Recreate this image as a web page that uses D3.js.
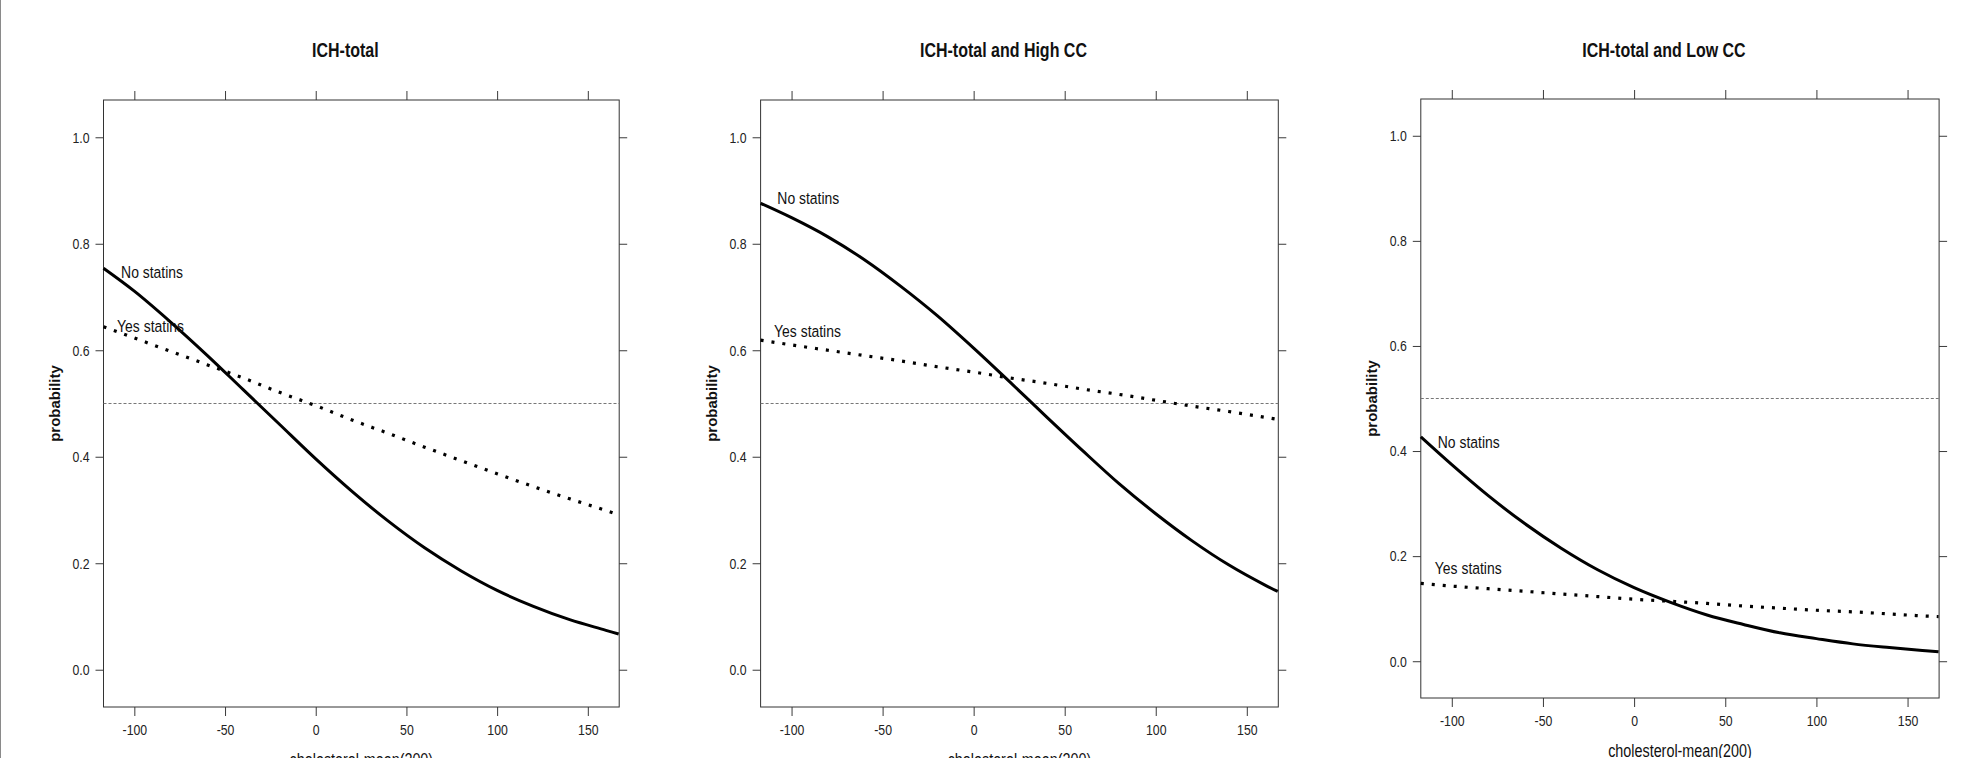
<!DOCTYPE html>
<html>
<head>
<meta charset="utf-8">
<script src="https://cdn.jsdelivr.net/npm/d3@7"></script>
<style>
  body { margin: 0; background: #fff; }
  svg { display: block; }
  .narrow { font-family: "Liberation Sans Narrow", "Arial Narrow", "Liberation Sans", sans-serif; }
</style>
</head>
<body>
<div id="chart"></div>
<script>
// values
var xTicks = [-100, -50, 0, 50, 100, 150];
var yTicks = [0, 0.2, 0.4, 0.6, 0.8, 1.0];
var cholesterol = [-117, -100, -80, -60, -40, -20, 0, 20, 40, 60, 80, 100, 120, 140, 160, 167];

var titles = ["ICH-total", "ICH-total and High CC", "ICH-total and Low CC"];
var seriesNames = ["No statins", "Yes statins"];

var totalNo  = [0.754, 0.711, 0.653, 0.591, 0.526, 0.461, 0.396, 0.335, 0.279, 0.229, 0.186, 0.149, 0.119, 0.094, 0.074, 0.067];
var totalYes = [0.644, 0.623, 0.598, 0.573, 0.548, 0.521, 0.496, 0.469, 0.444, 0.418, 0.393, 0.368, 0.344, 0.321, 0.299, 0.291];
var highNo   = [0.876, 0.849, 0.813, 0.770, 0.720, 0.665, 0.604, 0.540, 0.475, 0.411, 0.349, 0.293, 0.242, 0.197, 0.159, 0.147];
var highYes  = [0.619, 0.610, 0.600, 0.590, 0.580, 0.569, 0.559, 0.548, 0.538, 0.527, 0.517, 0.506, 0.495, 0.485, 0.474, 0.470];
var lowNo    = [0.427, 0.374, 0.315, 0.262, 0.215, 0.174, 0.140, 0.112, 0.088, 0.070, 0.054, 0.043, 0.033, 0.026, 0.020, 0.018];
var lowYes   = [0.148, 0.143, 0.138, 0.133, 0.128, 0.123, 0.118, 0.114, 0.110, 0.105, 0.101, 0.097, 0.094, 0.090, 0.086, 0.085];

// label anchors [x, probability] for "No statins" / "Yes statins"
var totalLabels = [[-107.3, 0.746], [-109.5, 0.646]];
var highLabels  = [[-107.8, 0.885], [-109.6, 0.636]];
var lowLabels   = [[-107.7, 0.418], [-109.3, 0.177]];

var refLine = 0.5;

var width = 1965;
var height = 758;
var squeeze = 0.82; // no narrow face installed, so squash the plain one

var svg = d3.select("#chart").append("svg")
    .attr("width", width)
    .attr("height", height);

// put x/y into a transform so the text can be squeezed sideways
function condense(sel) {
  sel.each(function() {
    var t = d3.select(this);
    var tx = +t.attr("x") || 0, ty = +t.attr("y") || 0;
    t.attr("x", 0).attr("y", 0)
     .attr("transform", "translate(" + tx + "," + ty + ") scale(" + squeeze + ",1)");
  });
}

// thin grey edge on the left of the picture
svg.append("line")
    .attr("x1", 0.5).attr("x2", 0.5)
    .attr("y1", 0).attr("y2", height)
    .attr("stroke", "#8a8a8a");

var panels = [
  {title: titles[0], no: totalNo, yes: totalYes, labels: totalLabels, left: 103.5, right: 619.2, top: 100, bottom: 707},
  {title: titles[1], no: highNo,  yes: highYes,  labels: highLabels,  left: 760.6, right: 1278.3, top: 100, bottom: 707},
  {title: titles[2], no: lowNo,   yes: lowYes,   labels: lowLabels,   left: 1420.8, right: 1939.1, top: 99, bottom: 698}
];

panels.forEach(function(p) {
  var x = d3.scaleLinear().domain([-117, 167.3]).range([p.left, p.right]);
  var y = d3.scaleLinear().domain([-0.07, 1.07]).range([p.bottom, p.top]);

  var g = svg.append("g");

  // axes: ticks outward on all four sides, labels only left and bottom
  var tickColor = "#3a3a3a";
  g.append("g")
      .attr("transform", "translate(0," + p.bottom + ")")
      .call(d3.axisBottom(x).tickValues(xTicks).tickSize(9).tickPadding(8).tickFormat(function(d) { return String(d); }));
  g.append("g")
      .attr("transform", "translate(0," + p.top + ")")
      .call(d3.axisTop(x).tickValues(xTicks).tickSize(9).tickFormat(""));
  g.append("g")
      .attr("transform", "translate(" + p.left + ",0)")
      .call(d3.axisLeft(y).tickValues(yTicks).tickSize(8).tickPadding(6).tickFormat(d3.format(".1f")));
  g.append("g")
      .attr("transform", "translate(" + p.right + ",0)")
      .call(d3.axisRight(y).tickValues(yTicks).tickSize(8).tickFormat(""));

  g.selectAll(".domain").remove();
  g.selectAll(".tick line").attr("stroke", tickColor);
  g.selectAll(".tick text")
      .attr("class", "narrow")
      .style("font-size", "15px")
      .attr("fill", "#222")
      .call(condense);

  // frame
  g.append("rect")
      .attr("x", p.left).attr("y", p.top)
      .attr("width", p.right - p.left).attr("height", p.bottom - p.top)
      .attr("fill", "none")
      .attr("stroke", "#333");

  // reference line at 0.5
  g.append("line")
      .attr("x1", p.left).attr("x2", p.right)
      .attr("y1", y(refLine)).attr("y2", y(refLine))
      .attr("stroke", "#777")
      .attr("stroke-width", 1.2)
      .attr("stroke-dasharray", "3,2");

  var line = d3.line()
      .x(function(d, i) { return x(cholesterol[i]); })
      .y(function(d) { return y(d); })
      .curve(d3.curveMonotoneX);

  g.append("path")
      .attr("d", line(p.no))
      .attr("fill", "none")
      .attr("stroke", "#000")
      .attr("stroke-width", 3);

  g.append("path")
      .attr("d", line(p.yes))
      .attr("fill", "none")
      .attr("stroke", "#000")
      .attr("stroke-width", 3.2)
      .attr("stroke-dasharray", "3,8");

  g.selectAll(".lab")
      .data(p.labels)
      .enter().append("text")
      .attr("class", "narrow")
      .attr("x", function(d) { return x(d[0]); })
      .attr("y", function(d) { return y(d[1]); })
      .attr("dy", "0.35em")
      .style("font-size", "17px")
      .attr("fill", "#111")
      .text(function(d, i) { return seriesNames[i]; })
      .call(condense);

  // title
  g.append("text")
      .attr("class", "narrow")
      .attr("x", (p.left + p.right) / 2 - 16)
      .attr("y", 57)
      .attr("text-anchor", "middle")
      .style("font-size", "19.5px")
      .style("font-weight", "bold")
      .attr("fill", "#111")
      .text(p.title)
      .call(condense);

  // axis titles
  g.append("text")
      .attr("class", "narrow")
      .attr("x", (p.left + p.right) / 2)
      .attr("y", p.bottom + 59)
      .attr("text-anchor", "middle")
      .style("font-size", "17.5px")
      .attr("fill", "#111")
      .text("cholesterol-mean(200)")
      .call(condense);

  g.append("text")
      .attr("transform", "translate(" + (p.left - 49) + "," + ((p.top + p.bottom) / 2) + ") rotate(-90)")
      .attr("text-anchor", "middle")
      .attr("dy", "0.35em")
      .style("font-family", "'Liberation Sans', Arial, sans-serif")
      .style("font-size", "15px")
      .style("font-weight", "bold")
      .attr("fill", "#111")
      .text("probability");
});
</script>
</body>
</html>
